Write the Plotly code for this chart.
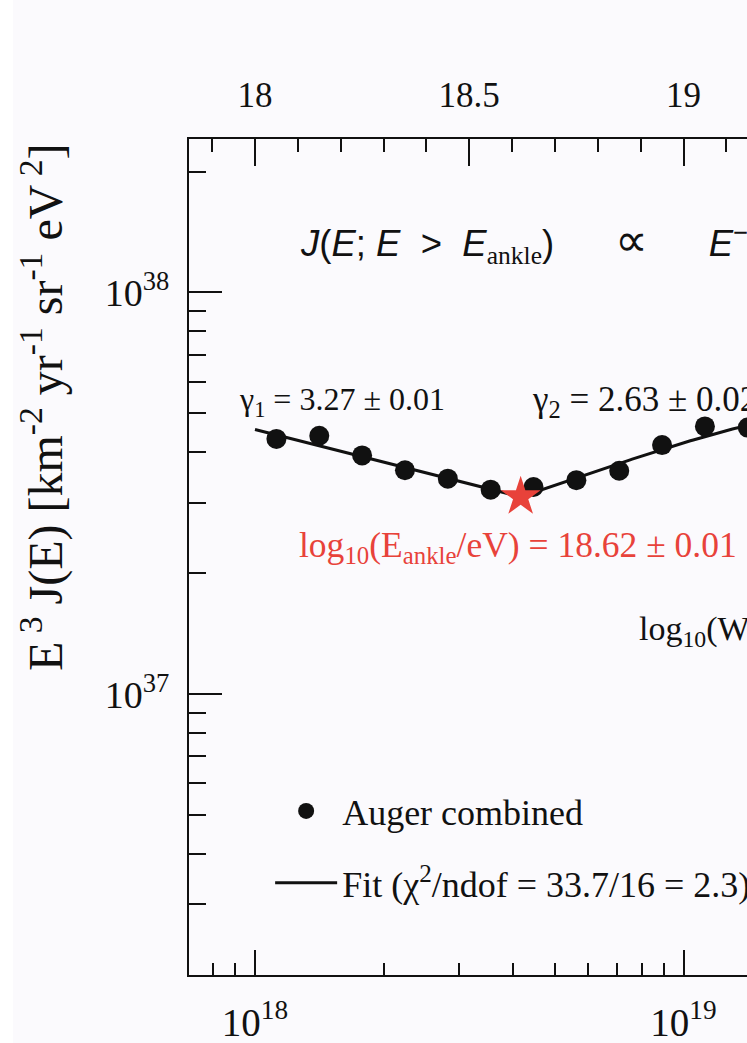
import numpy as np
import plotly.graph_objects as go

# Auger combined spectrum: bin centres in log10(E/eV) and E^3 J(E) in km^-2 yr^-1 sr^-1 eV^2
log_energy = [18.05, 18.15, 18.25, 18.35, 18.45, 18.55, 18.65, 18.75, 18.85, 18.95, 19.05, 19.15]
e3_flux = [4.32e37, 4.40e37, 3.93e37, 3.61e37, 3.44e37, 3.23e37,
           3.28e37, 3.41e37, 3.60e37, 4.17e37, 4.64e37, 4.61e37]

# Broken power-law fit parameters
gamma1 = 3.27
gamma2 = 2.63
log_e_ankle = 18.62
e3_flux_ankle = 3.10e37
log_e_half = 19.62
log_wc = 0.15

# Axis tick labels
bottom_ticks = [1e18, 1e19]
bottom_labels = ["10<sup>18</sup>", "10<sup>19</sup>"]
top_ticks = [18, 18.5, 19]
top_labels = ["18", "18.5", "19"]
left_ticks = [1e37, 1e38]
left_labels = ["10<sup>37</sup>", "10<sup>38</sup>"]

SERIF = "Liberation Serif, Times New Roman, serif"
SANS = "Liberation Sans, Arial, sans-serif"
RED = "#E8423A"
INK = "#111111"
BG = "#FBFAFD"


def fit_e3j(lg):
    """E^3 J(E) of the fitted model at log10(E/eV) = lg."""
    lg = np.asarray(lg, dtype=float)
    below = np.log10(e3_flux_ankle) + (3 - gamma1) * (lg - log_e_ankle)
    supp = lambda x: np.log10(1 + np.exp((x - log_e_half) / log_wc))
    above = (np.log10(e3_flux_ankle) + (3 - gamma2) * (lg - log_e_ankle)
             - supp(lg) + supp(log_e_ankle))
    return 10 ** np.where(lg < log_e_ankle, below, above)


fit_lg = np.linspace(18.0, 19.4, 300)
fit_y = fit_e3j(fit_lg)

x_range = [17.846, 19.1482]
y_range = [np.log10(2e36), 38.382]

fig = go.Figure()

fig.add_trace(go.Scatter(
    x=10 ** fit_lg, y=fit_y, mode="lines",
    line=dict(color=INK, width=3),
    name="Fit (χ<sup>2</sup>/ndof = 33.7/16 = 2.3)",
    legendgroup="fit", legendrank=2,
))

fig.add_trace(go.Scatter(
    x=[10 ** v for v in log_energy], y=e3_flux, mode="markers",
    marker=dict(color=INK, size=20),
    name="Auger combined",
    legendgroup="data", legendrank=1,
))

# Ankle position on the log10(E) axis
fig.add_trace(go.Scatter(
    x=[log_e_ankle], y=[float(fit_e3j(log_e_ankle))], mode="markers",
    xaxis="x2", yaxis="y",
    marker=dict(symbol="star", color=RED, size=30, line=dict(width=0)),
    showlegend=False,
))

axis_common = dict(
    showline=True, linecolor=INK, linewidth=2,
    ticks="inside", tickcolor=INK, tickwidth=2,
    showgrid=False, zeroline=False,
)

fig.update_layout(
    width=747, height=1043,
    margin=dict(l=189, r=0, t=139, b=68, autoexpand=False),
    paper_bgcolor=BG, plot_bgcolor=BG,
    font=dict(family=SERIF, color=INK, size=34),
    xaxis=dict(
        type="log", range=x_range, **axis_common,
        ticklen=25, tickmode="array", tickvals=bottom_ticks, ticktext=bottom_labels,
        tickfont=dict(size=39, family=SERIF, color=INK), ticklabelstandoff=12,
        minor=dict(ticks="inside", ticklen=12, tickwidth=2, tickcolor=INK, tickmode="array",
                   tickvals=[8e17, 9e17] + [k * 1e18 for k in range(2, 10)] + [2e19]),
    ),
    xaxis2=dict(
        overlaying="x", side="top", anchor="y", range=x_range, **axis_common,
        ticklen=27, tickmode="array", tickvals=top_ticks, ticktext=top_labels,
        tickfont=dict(size=35, family=SERIF, color=INK), ticklabelstandoff=16,
        minor=dict(ticks="inside", ticklen=13, tickwidth=2, tickcolor=INK,
                   tickmode="array", tickvals=[round(17.9 + 0.1 * k, 1) for k in range(14)]),
    ),
    yaxis=dict(
        type="log", range=y_range, **axis_common,
        ticklen=33, tickmode="array", tickvals=left_ticks, ticktext=left_labels,
        tickfont=dict(size=38, family=SERIF, color=INK), ticklabelstandoff=10,
        minor=dict(ticks="inside", ticklen=17, tickwidth=2, tickcolor=INK, tickmode="array",
                   tickvals=[k * 1e36 for k in range(2, 10)] + [k * 1e37 for k in range(2, 10)] + [2e38]),
    ),
    legend=dict(
        x=0.1454, y=0.232, xanchor="left", yanchor="top",
        bgcolor="rgba(0,0,0,0)", borderwidth=0,
        font=dict(size=36, family=SERIF, color=INK),
        traceorder="grouped", tracegroupgap=22, itemwidth=62,
    ),
    showlegend=True,
)


def px_to_lgx(px):
    return 18 + (px - 255) / 428.5


def px_to_lgy(py):
    return 37 + (695 - py) / 402.3


NB = "\u00a0"
annotations = [
    dict(text="γ<sub>1</sub> = 3.27 ± 0.01", x=px_to_lgx(237), y=px_to_lgy(402),
         xanchor="left", yanchor="middle", font=dict(size=32, color=INK)),
    dict(text="γ<sub>2</sub> = 2.63 ± 0.02", x=px_to_lgx(530), y=px_to_lgy(402),
         xanchor="left", yanchor="middle", font=dict(size=35, color=INK)),
    dict(text="log<sub>10</sub>(E<sub>ankle</sub>/eV) = 18.62 ± 0.01",
         x=px_to_lgx(297), y=px_to_lgy(548),
         xanchor="left", yanchor="middle", font=dict(size=35.5, color=RED)),
    dict(text="log<sub>10</sub>(W<sub>c</sub>/eV) = 0.15 ± 0.02",
         x=px_to_lgx(637), y=px_to_lgy(632),
         xanchor="left", yanchor="middle", font=dict(size=34, color=INK)),
    dict(text=("<i>J</i>(<i>E</i>; <i>E</i>" + NB * 2 + ">" + NB * 2 + "<i>E</i>"
               "<sub><span style='font-family:Liberation Serif'>ankle</span></sub>)"
               + NB * 6 + "<span style='font-size:46px'>∝</span>" + NB * 6 +
               "<i>E</i><sup>−γ₂</sup>"),
         x=px_to_lgx(298), y=px_to_lgy(242),
         xanchor="left", yanchor="middle", font=dict(size=36.5, family=SANS, color=INK)),
]
for a in annotations:
    a.update(xref="x", yref="y", showarrow=False)

# Vertical axis title
annotations.append(dict(
    text="E<sup> 3</sup> J(E) [km<sup>-2</sup> yr<sup>-1</sup> sr<sup>-1</sup> eV<sup> 2</sup>]",
    xref="paper", yref="paper", x=(42 - 189) / 558, y=(975 - 407) / 836,
    xanchor="center", yanchor="middle", textangle=-90, showarrow=False,
    font=dict(size=48, family=SERIF, color=INK),
))
fig.update_layout(annotations=annotations)

# Slightly lighter strip along the left page edge
fig.add_shape(type="rect", xref="paper", yref="paper",
              x0=-189 / 558, x1=(13 - 189) / 558, y0=-68 / 836, y1=975 / 836 + 0.2,
              fillcolor="#FFFFFF", line=dict(width=0), layer="below")

fig.write_html("out.html")
